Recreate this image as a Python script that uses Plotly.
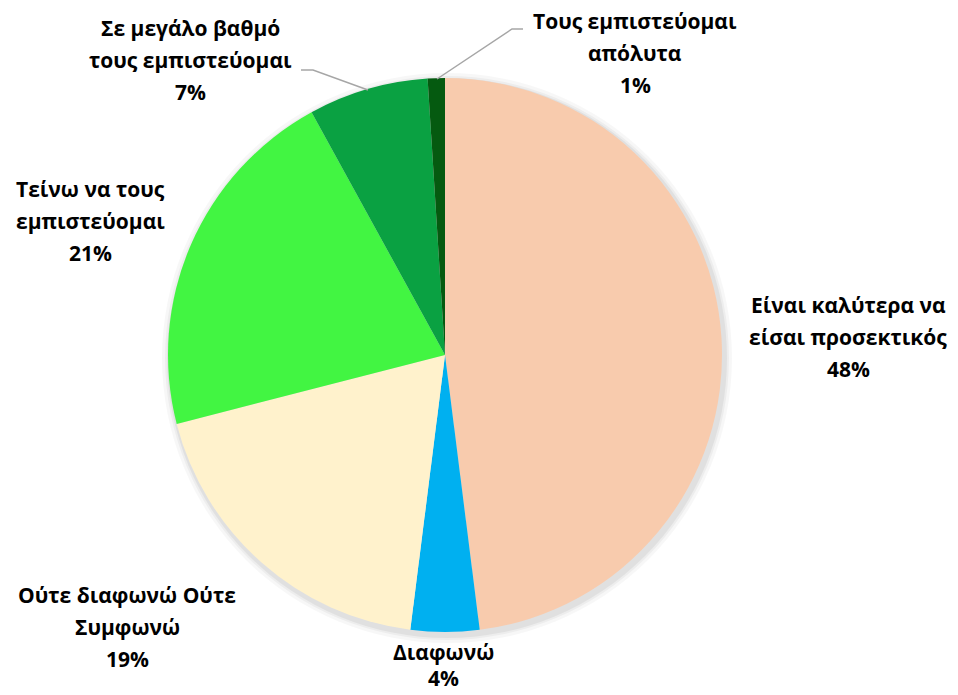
import plotly.graph_objects as go

W, H = 958, 695

categories = ["Είναι καλύτερα να είσαι προσεκτικός", "Διαφωνώ", "Ούτε διαφωνώ Ούτε Συμφωνώ",
              "Τείνω να τους εμπιστεύομαι", "Σε μεγάλο βαθμό τους εμπιστεύομαι", "Τους εμπιστεύομαι απόλυτα"]
values = [48, 4, 19, 21, 7, 1]
label_lines = [
    ["Είναι καλύτερα να", "είσαι προσεκτικός"],
    ["Διαφωνώ"],
    ["Ούτε διαφωνώ Ούτε", "Συμφωνώ"],
    ["Τείνω να τους", "εμπιστεύομαι"],
    ["Σε μεγάλο βαθμό", "τους εμπιστεύομαι"],
    ["Τους εμπιστεύομαι", "απόλυτα"],
]
colors = ["#F8CBAD", "#00B0F0", "#FFF2CC", "#42F542", "#0AA142", "#055A10"]

# label layout (pixel centre of first line, line spacing)
label_pos = [(848, 305), (443, 652), (127, 595), (90, 189), (190, 28), (635, 21)]
label_gap = [32, 26, 32, 32, 32, 32]

cx, cy, r = 445, 355, 277

fig = go.Figure()
# soft shadow
for dr, op in [(8, 0.03), (5, 0.04), (3, 0.05)]:
    rr = r + dr
    fig.add_trace(go.Pie(values=[1], marker=dict(colors=["rgba(0,0,0,%s)" % op]),
                         textinfo="none", hoverinfo="skip", showlegend=False, sort=False,
                         domain=dict(x=[(cx + 2 - rr) / W, (cx + 2 + rr) / W],
                                     y=[1 - (cy + 3 + rr) / H, 1 - (cy + 3 - rr) / H])))

fig.add_trace(go.Pie(
    labels=categories, values=values, sort=False, direction="clockwise", rotation=0,
    marker=dict(colors=colors, line=dict(width=0)),
    textinfo="none", showlegend=False,
    domain=dict(x=[(cx - r) / W, (cx + r) / W], y=[1 - (cy + r) / H, 1 - (cy - r) / H]),
))

font = dict(family="Open Sans", size=21, color="#000000")
for lines, v, (px, py), gap in zip(label_lines, values, label_pos, label_gap):
    all_lines = lines + [f"{v}%"]
    for i, t in enumerate(all_lines):
        fig.add_annotation(text=f"<b>{t}</b>", x=px / W, y=1 - (py + i * gap) / H,
                           xref="paper", yref="paper", showarrow=False,
                           xanchor="center", yanchor="middle", font=font)

# leader lines
leaders = [[(301, 70), (313, 70), (368, 90)], [(523, 29), (512, 29), (437, 79)]]
for pts in leaders:
    path = "M " + " L ".join(f"{x / W} {1 - y / H}" for x, y in pts)
    fig.add_shape(type="path", path=path, xref="paper", yref="paper",
                  line=dict(color="#A6A6A6", width=1.5))

fig.update_layout(width=W, height=H, margin=dict(l=0, r=0, t=0, b=0),
                  paper_bgcolor="white", plot_bgcolor="white")
fig.write_html("out.html", config={"displayModeBar": False},
               post_script="document.body.style.margin='0';document.body.style.overflow='hidden';")
